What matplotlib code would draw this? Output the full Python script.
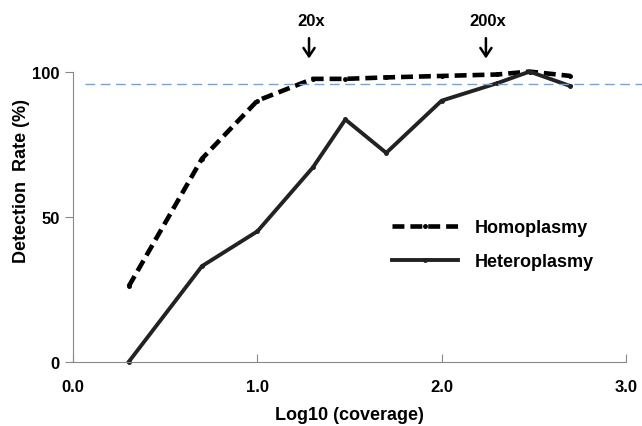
import numpy as np
import matplotlib
matplotlib.use("Agg")
import matplotlib.pyplot as plt

plt.rcParams['font.family'] = ['Liberation Sans', 'DejaVu Sans']
plt.rcParams['font.weight'] = 'bold'

coverage = [2, 5, 10, 20, 30, 50, 100, 200, 300, 500]
homoplasmy = [26, 70, 90, 97.5, 97.5, 98, 98.5, 99, 100, 98.5]
heteroplasmy = [0, 33, 45, 67, 83.5, 72, 90, 96, 100, 95]
threshold = 95.7
arrow_labels = ["20x", "200x"]
arrow_pos = [1.28, 2.24]

x = np.log10(coverage)

fig = plt.figure(figsize=(6.42, 4.27), dpi=100)
ax = fig.add_axes([0.114, 0.15, 0.861, 0.85])

ax.plot(x, homoplasmy, color='black', lw=3.3, ls=(0, (2.6, 1.3)), marker='o', ms=2.5,
        label='Homoplasmy', clip_on=False)
ax.plot(x, heteroplasmy, color='#222222', lw=2.8, marker='o', ms=2.5,
        label='Heteroplasmy', clip_on=False)
ax.plot([0.065, 3.09], [threshold, threshold], color='#7f9fcc', lw=1, ls=(0, (7, 4)),
        clip_on=False)

for lab, xp in zip(arrow_labels, arrow_pos):
    ax.annotate('', xy=(xp, 104.5), xytext=(xp, 111.5),
                arrowprops=dict(arrowstyle='->, head_length=0.6, head_width=0.4',
                                color='black', lw=1.8, shrinkA=0, shrinkB=0))
    ax.text(xp + 0.01, 117.5, lab, ha='center', va='center', fontsize=12,
            fontweight='bold')

ax.set_xlim(0, 3.0)
ax.set_ylim(0, 125)
ax.set_xticks([0, 1, 2, 3])
ax.set_xticklabels(['0.0', '1.0', '2.0', '3.0'])
ax.set_yticks([0, 50, 100])
ax.tick_params(axis='x', direction='in', length=6, color='#888888', labelsize=12, pad=12)
ax.tick_params(axis='y', direction='out', length=6, color='#888888', labelsize=12)
for s in ['top', 'right']:
    ax.spines[s].set_visible(False)
for s in ['left', 'bottom']:
    ax.spines[s].set_color('#888888')
ax.spines['left'].set_bounds(0, 100)

ax.set_xlabel('Log10 (coverage)', fontsize=13, fontweight='bold', labelpad=9)
ax.set_ylabel('Detection  Rate (%)', fontsize=13, fontweight='bold', labelpad=2)

ax.legend(loc='center left', bbox_to_anchor=(0.577, 0.323), frameon=False, fontsize=13,
          handlelength=3.65, labelspacing=0.95, handletextpad=0.95,
          borderaxespad=0, borderpad=0)

fig.savefig('out.png', dpi=100)
